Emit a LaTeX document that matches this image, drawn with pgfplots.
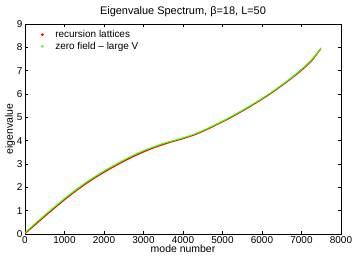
\documentclass[border=0pt]{standalone}
\usepackage{pgfplots}
\pgfplotsset{compat=1.18}
\usepackage{fontspec}
\setmainfont{Liberation Sans}
\definecolor{mred}{RGB}{255,0,0}
\definecolor{mgreen}{RGB}{60,255,0}
\begin{document}
\begin{tikzpicture}[x=1bp,y=1bp]
\useasboundingbox (-25bp,-28bp) rectangle (329bp,234bp);
\begin{axis}[
  scale only axis,
  width=316bp, height=210bp,
  xmin=0, xmax=8000, ymin=0, ymax=9,
  xtick={0,1000,...,8000}, ytick={0,1,...,9},
  scaled x ticks=false,
  xticklabel style={/pgf/number format/1000 sep={}},
  /pgf/number format/assume math mode=true,
  tick align=inside, tick pos=both,
  major tick length=3bp,
  tick style={black, line width=0.5pt},
  axis line style={black, line width=0.5pt},
  ticklabel style={font=\fontsize{10}{11}\selectfont},
  label style={font=\fontsize{10.5}{11}\selectfont},
  title style={font=\fontsize{11}{12}\selectfont, at={(0.5,1)}, yshift=-2.5bp},
  title={Eigenvalue Spectrum, β=18, L=50},
  xlabel={mode number}, ylabel={eigenvalue},
  xlabel style={yshift=5bp},
  ylabel style={yshift=-5bp},
  xticklabel style={yshift=1bp},
  yticklabel style={xshift=1bp},
  legend style={draw=none, fill=none, at={(0.047,0.985)}, anchor=north west,
    font=\fontsize{10}{11}\selectfont, row sep=-1bp, inner sep=1bp},
  legend cell align=left,
  legend image code/.code={\path[draw=none] (-1bp,0) -- (11bp,0); \fill[#1] (0,0) circle (0.6bp);},
]
\addplot[mred, line width=1.3pt, smooth] coordinates {
(0,0.02) (250,0.39) (500,0.76) (750,1.12) (1000,1.47) (1250,1.80) (1500,2.11)
(1750,2.39) (2000,2.65) (2250,2.89) (2500,3.12) (2750,3.33) (3000,3.52)
(3250,3.69) (3500,3.84) (3750,3.97) (4000,4.09) (4250,4.23) (4500,4.40)
(4750,4.60) (5000,4.81) (5250,5.03) (5500,5.27) (5750,5.52) (6000,5.78)
(6250,6.06) (6500,6.36) (6750,6.68) (7000,7.02) (7250,7.42) (7480,7.92)
};
\addlegendentry{recursion lattices}
\addplot[mgreen, line width=1.1pt, smooth] coordinates {
(0,0.05) (250,0.44) (500,0.81) (750,1.17) (1000,1.52) (1250,1.85) (1500,2.16)
(1750,2.44) (2000,2.70) (2250,2.94) (2500,3.17) (2750,3.38) (3000,3.57)
(3250,3.73) (3500,3.88) (3750,4.00) (4000,4.12) (4250,4.26) (4500,4.43)
(4750,4.63) (5000,4.84) (5250,5.06) (5500,5.30) (5750,5.55) (6000,5.81)
(6250,6.09) (6500,6.39) (6750,6.71) (7000,7.06) (7250,7.46) (7500,7.98)
};
\addlegendentry{zero field -- large V}
\end{axis}
\end{tikzpicture}
\end{document}
